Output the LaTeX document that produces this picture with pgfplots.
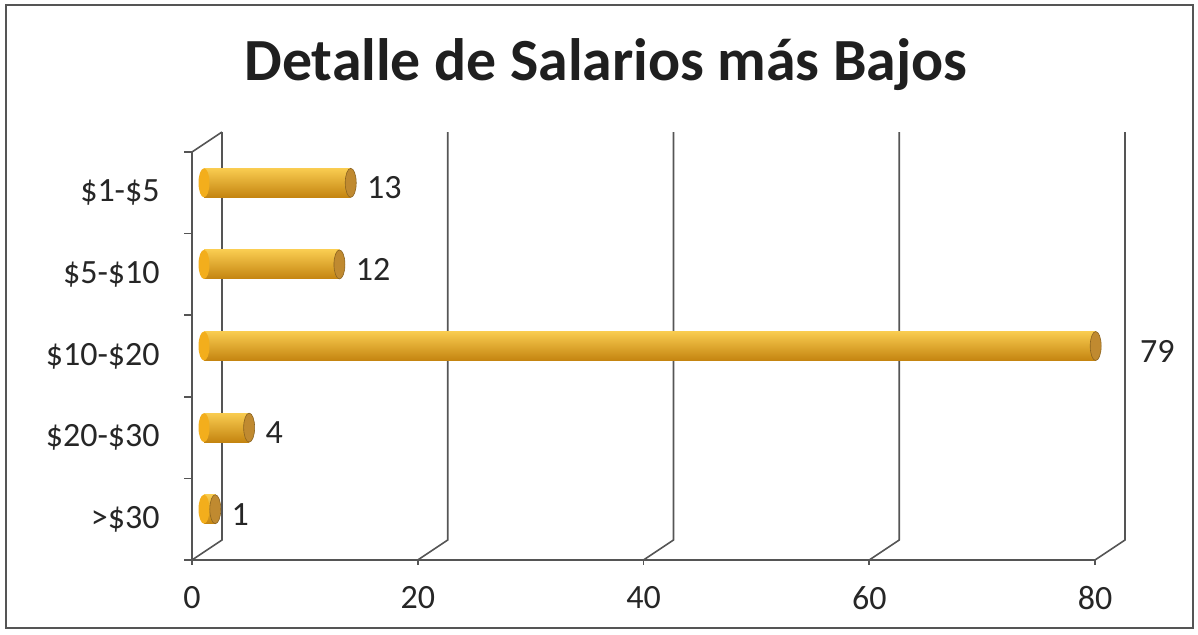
\documentclass[border=0pt]{standalone}
\usepackage{pgfplots}
\pgfplotsset{compat=1.18}
\usepackage{fontspec}
\setmainfont{Carlito}
\definecolor{gline}{HTML}{555555}
\definecolor{barTop}{HTML}{F9CC50}
\definecolor{barMid}{HTML}{F3AE1C}
\definecolor{barBot}{HTML}{C48410}
\definecolor{capC}{HTML}{C08A30}
\definecolor{barEdge}{HTML}{8C6420}
\pgfdeclareplotmark{capR}{\pgfpathellipse{\pgfpointorigin}{\pgfqpoint{2.75pt}{0pt}}{\pgfqpoint{0pt}{7.25pt}}\pgfusepathqfillstroke}
\pgfdeclareplotmark{capL}{\pgfpathellipse{\pgfpointorigin}{\pgfqpoint{2.75pt}{0pt}}{\pgfqpoint{0pt}{7.25pt}}\pgfusepathqfill}
\pgfplotsset{cyl/.style={xbar, bar width=14.5pt, bar shift=0pt, draw=none,
  top color=barTop, middle color=barMid, bottom color=barBot, xshift=6pt, yshift=5pt}}
\begin{document}
\begin{tikzpicture}
\path[use as bounding box] (0,0) rectangle (599pt,-317pt);
\draw[gline, line width=0.8pt] (3pt,-2.5pt) rectangle (596.5pt,-314pt);
\node[font=\bfseries\fontsize{29.9}{36}\selectfont, text=black!88] at (303pt,-32.5pt) {Detalle de Salarios más Bajos};
\begin{axis}[
  at={(96pt,-280pt)}, anchor=south west,
  scale only axis, width=451.5pt, height=204pt,
  xmin=0, xmax=80, ymin=0.5, ymax=5.5,
  clip=false,
  axis x line*=bottom, axis y line*=left,
  axis line style={gline, line width=0.8pt, -},
  xtick={0,20,40,60,80},
  ytick={1,2,3,4,5},
  yticklabels={{>\$30},{\$20-\$30},{\$10-\$20},{\$5-\$10},{\$1-\$5}},
  major tick length=0pt,
  /pgf/number format/assume math mode=true,
  ticklabel style={font=\fontsize{17}{20}\selectfont, text=black!85},
  xticklabel style={anchor=north, inner sep=0pt, yshift=-13pt},
  yticklabel style={anchor=east, inner sep=0pt, xshift=-16pt},
]
% back walls and grid
\foreach \g in {0,20,40,60,80}{
  \edef\tmp{\noexpand\draw[gline, line width=0.8pt] (axis cs:\g,0.5) -- (axis cs:\g+2.658,0.745) -- (axis cs:\g+2.658,5.745);
  \noexpand\draw[gline, line width=0.8pt] (axis cs:\g,0.5) -- ++(0pt,-2.5pt);}
  \tmp
}
\draw[gline, line width=0.8pt] (axis cs:0,5.5) -- (axis cs:2.658,5.745);
\foreach \t in {0.5,1.5,2.5,3.5,4.5,5.5}{
  \edef\tmp{\noexpand\draw[gline, line width=0.8pt] (axis cs:0,\t) -- ++(-4pt,0pt);}
  \tmp
}
% left caps
\addplot[only marks, mark=capL, mark options={fill=barMid}, xshift=6pt, yshift=5pt]
  coordinates {(0,5) (0,4) (0,3) (0,2) (0,1)};
% bars
\addplot[cyl] coordinates {(13,5)};
\addplot[cyl] coordinates {(12,4)};
\addplot[cyl] coordinates {(79,3)};
\addplot[cyl] coordinates {(4,2)};
\addplot[cyl] coordinates {(1,1)};
% right caps
\addplot[only marks, mark=capR, mark options={fill=capC, draw=barEdge, line width=0.3pt}, xshift=6pt, yshift=5pt]
  coordinates {(13,5) (12,4) (79,3) (4,2) (1,1)};
% labels
\addplot[draw=none, mark=none, point meta=x, nodes near coords,
  nodes near coords style={anchor=west, inner sep=0pt, xshift=14pt, yshift=2.5pt, font=\fontsize{17}{20}\selectfont, text=black!85}]
  coordinates {(13,5) (12,4) (4,2) (1,1)};
\addplot[draw=none, mark=none, point meta=x, nodes near coords,
  nodes near coords style={anchor=west, inner sep=0pt, xshift=28pt, yshift=2.5pt, font=\fontsize{17}{20}\selectfont, text=black!85}]
  coordinates {(79,3)};
\end{axis}
\end{tikzpicture}
\end{document}
